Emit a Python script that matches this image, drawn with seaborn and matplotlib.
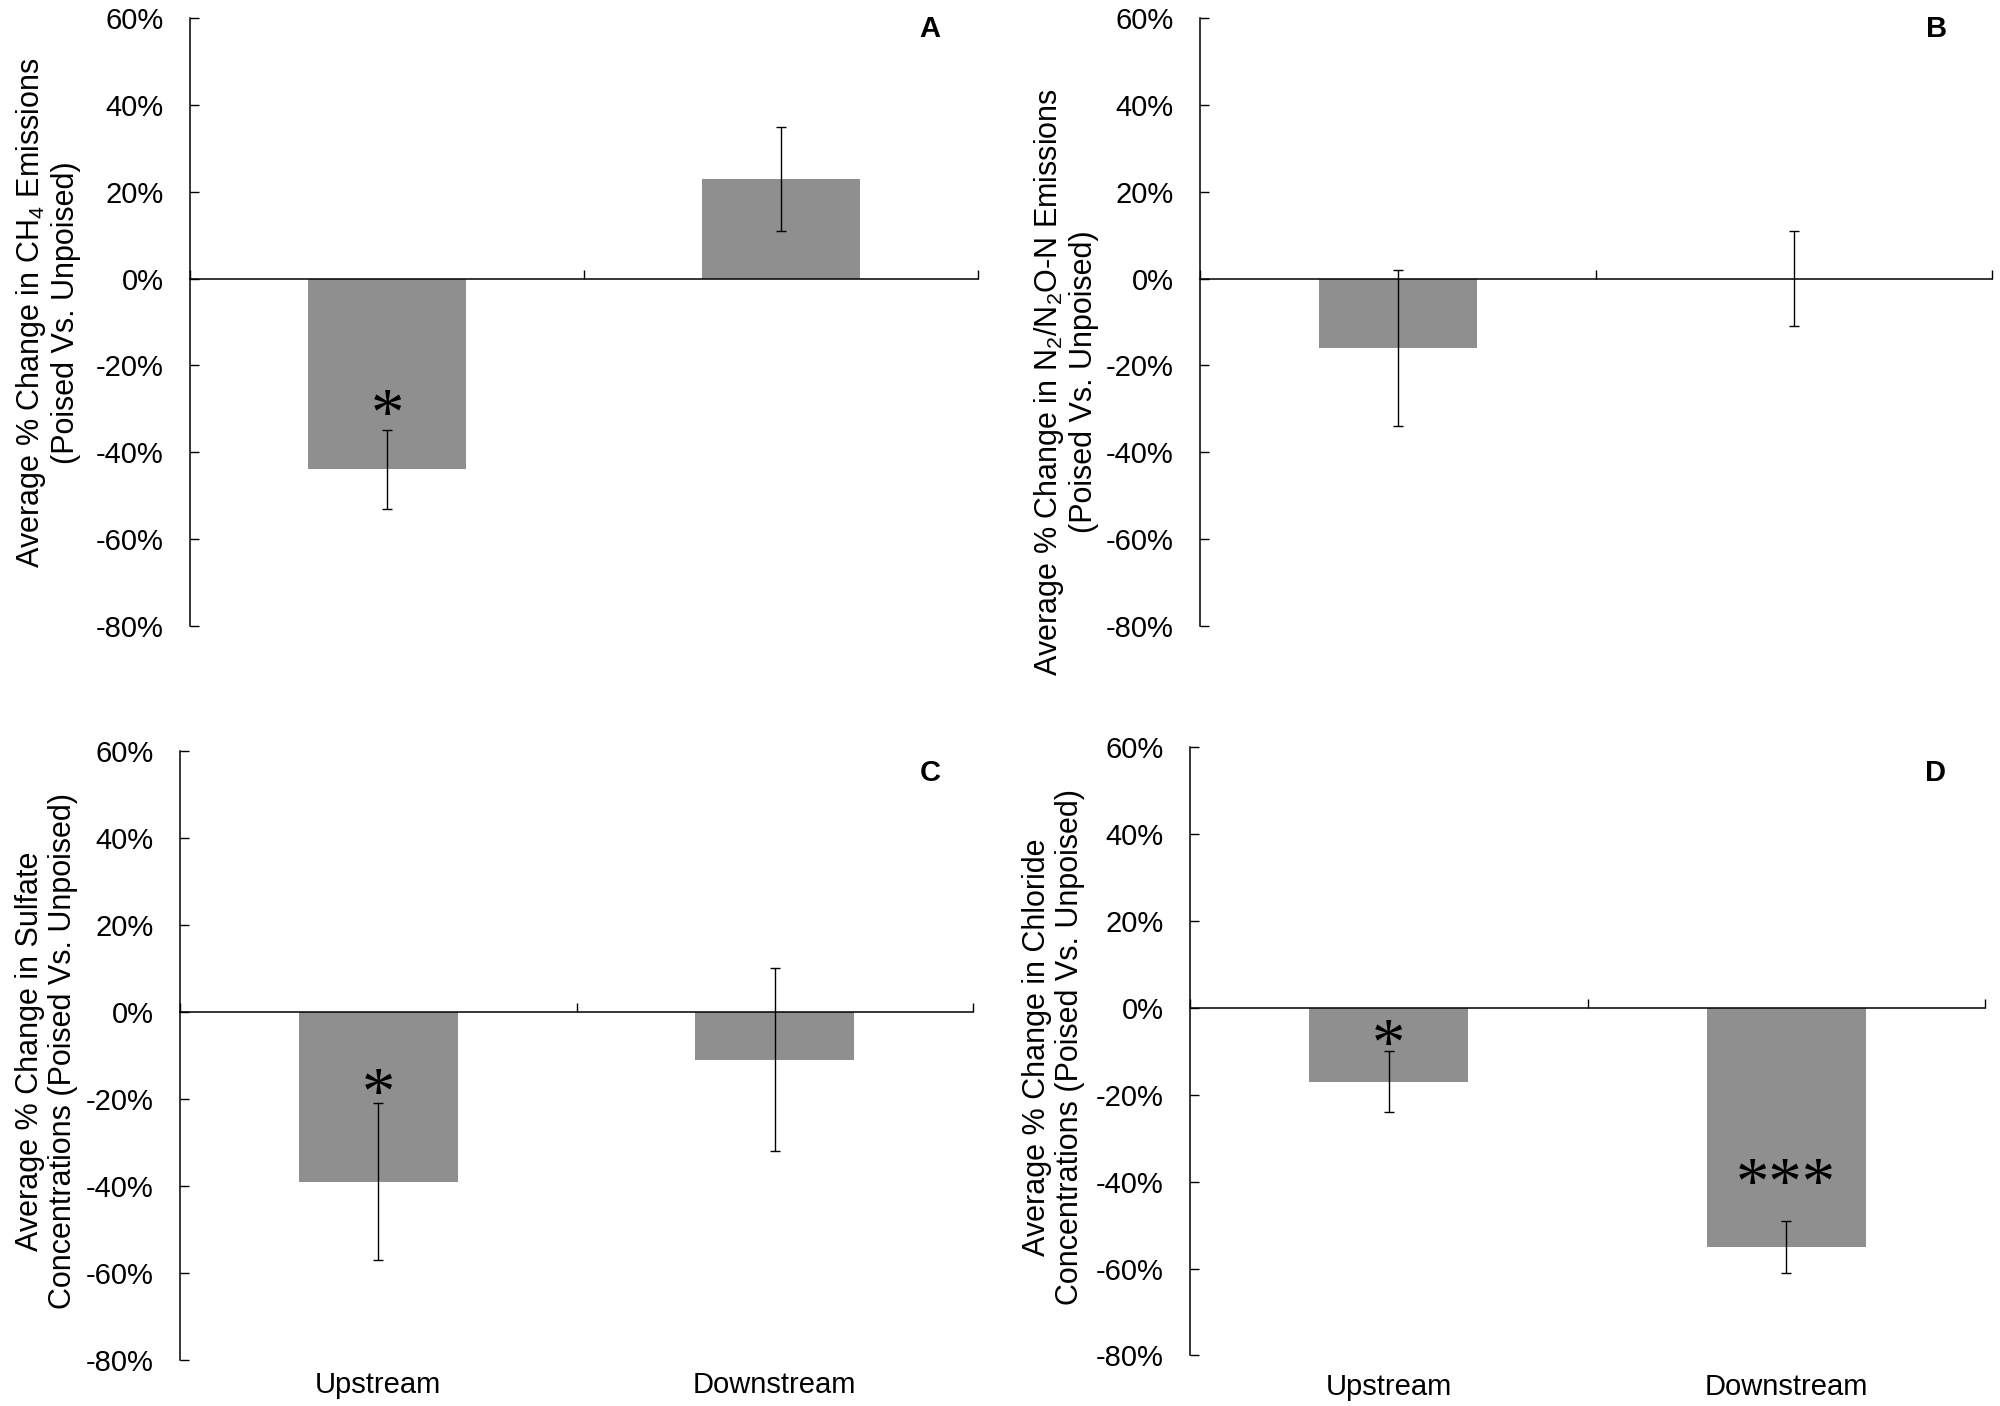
import matplotlib
matplotlib.use('Agg')
import matplotlib.pyplot as plt
import seaborn as sns
import pandas as pd
import numpy as np

sns.set_theme(style='white')
plt.rcParams['font.family'] = ['Liberation Sans', 'DejaVu Sans']
plt.rcParams['mathtext.fontset'] = 'custom'
plt.rcParams['mathtext.rm'] = 'Liberation Sans'
plt.rcParams['mathtext.it'] = 'Liberation Sans:italic'
plt.rcParams['mathtext.bf'] = 'Liberation Sans:bold'

# ---- data ----
categories = ['Upstream', 'Downstream']
ch4_mean = [-44, 23]
ch4_err = [9, 12]
n2_mean = [-16, 0]
n2_err = [18, 11]
sulfate_mean = [-39, -11]
sulfate_err = [18, 21]
chloride_mean = [-17, -55]
chloride_err = [7, 6]
yticks = [60, 40, 20, 0, -20, -40, -60, -80]
panel_letters = ['A', 'B', 'C', 'D']
ylabels = [
    'Average % Change in CH$_4$ Emissions\n(Poised Vs. Unpoised)',
    'Average % Change in N$_2$/N$_2$O-N Emissions\n(Poised Vs. Unpoised)',
    'Average % Change in Sulfate\nConcentrations (Poised Vs. Unpoised)',
    'Average % Change in Chloride\nConcentrations (Poised Vs. Unpoised)',
]
sig_marks = [['*', ''], ['', ''], ['*', ''], ['*', '***']]
sig_y = [[-28.7, 0], [0, 0], [-16.0, 0], [-5.6, -37.6]]

means = [ch4_mean, n2_mean, sulfate_mean, chloride_mean]
errs = [ch4_err, n2_err, sulfate_err, chloride_err]

# ---- layout ----
fig = plt.figure(figsize=(20, 14.06), dpi=100)
rects = [
    [0.095, 0.555, 0.394, 0.432],
    [0.600, 0.555, 0.396, 0.432],
    [0.090, 0.0327, 0.3965, 0.4333],
    [0.595, 0.036, 0.3975, 0.4325],
]
letter_pos = [(0.939, 1.005), (0.930, 1.005), (0.946, 0.987), (0.938, 0.980)]
label_pos = [(-0.181, 0.515), (-0.170, 0.401), (-0.168, 0.507), (-0.172, 0.507)]
cat_offsets = [None, None, -8, -13]

bar_color = '#8f8f8f'
FS = 21
LFS = 22

for i in range(4):
    ax = fig.add_axes(rects[i])
    df = pd.DataFrame({'site': categories, 'value': means[i]})
    sns.barplot(data=df, x='site', y='value', color=bar_color, width=0.4,
                saturation=1, errorbar=None, edgecolor='none', linewidth=0, ax=ax)
    ax.errorbar(x=np.arange(len(categories)), y=means[i], yerr=errs[i], fmt='none',
                ecolor='black', elinewidth=1.0, capsize=3.3, capthick=1.0, zorder=4)
    ax.set_xlim(-0.5, 1.5)
    ax.set_ylim(-80, 60)
    ax.set_yticks(yticks)
    ax.set_yticklabels([f'{v}%' for v in yticks])
    ax.set_xticks([-0.5, 0.5, 1.5])
    ax.set_xticklabels([])
    ax.set_xlabel('')
    ax.set_ylabel('')
    for s in ['top', 'right']:
        ax.spines[s].set_visible(False)
    for s in ['left', 'bottom']:
        ax.spines[s].set_color('black')
        ax.spines[s].set_linewidth(1.1)
    ax.spines['bottom'].set_position(('data', 0))
    ax.spines['bottom'].set_zorder(5)
    ax.tick_params(axis='x', direction='in', length=6.5, width=1.0, color='black', bottom=True)
    ax.tick_params(axis='y', direction='in', length=6.7, width=1.0, color='black',
                   labelsize=FS, pad=19, left=True, labelcolor='black')
    ax.text(letter_pos[i][0], letter_pos[i][1], panel_letters[i], transform=ax.transAxes,
            ha='center', va='top', fontsize=FS, fontweight='bold', color='black')
    ax.text(label_pos[i][0], label_pos[i][1], ylabels[i], transform=ax.transAxes,
            rotation=90, ha='center', va='center', multialignment='center',
            fontsize=LFS, color='black', linespacing=1.12)
    for j in range(len(categories)):
        if sig_marks[i][j]:
            F = 48
            ax.annotate(sig_marks[i][j], xy=(j, sig_y[i][j]), xytext=(0, -0.47 * F),
                        textcoords='offset points', ha='center', va='baseline',
                        fontsize=F, family=['Liberation Serif', 'DejaVu Serif'], color='black')
    if cat_offsets[i] is not None:
        for j, c in enumerate(categories):
            ax.annotate(c, xy=(j, 0), xycoords=('data', 'axes fraction'),
                        xytext=(0, cat_offsets[i]), textcoords='offset points',
                        ha='center', va='top', fontsize=FS, color='black')

fig.savefig('out.png', dpi=100)
